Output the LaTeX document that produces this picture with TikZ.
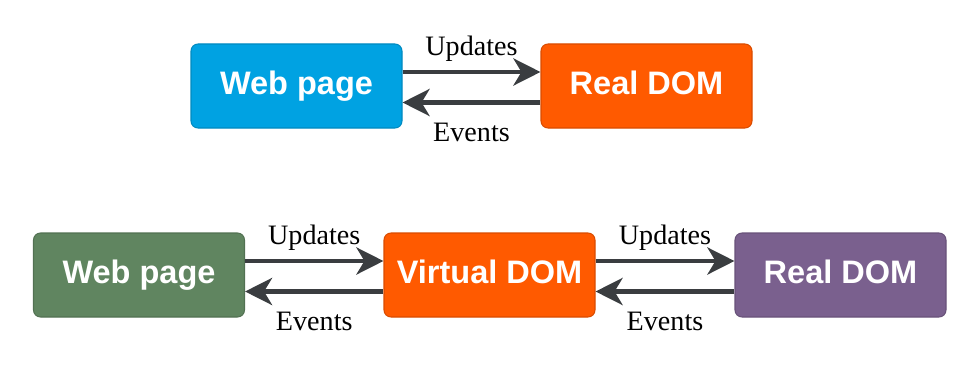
\documentclass[tikz,border=0pt]{standalone}
\usepackage{fontspec}
\setmainfont{Liberation Serif}
\setsansfont{Liberation Sans}
\usetikzlibrary{arrows.meta,positioning}

\definecolor{webblue}{RGB}{0,162,226}
\definecolor{domorange}{RGB}{255,90,0}
\definecolor{webgreen}{RGB}{96,133,96}
\definecolor{dompurple}{RGB}{122,96,142}
\definecolor{arrowgray}{RGB}{58,61,64}

\begin{document}
\begin{tikzpicture}[
  >={Stealth[length=5.4mm,width=5.4mm,inset=1.6mm]},
  box/.style={rounded corners=4pt,minimum width=4.22cm,minimum height=1.68cm,
              font=\sffamily\bfseries\fontsize{18.5}{22}\selectfont,text=white,line width=0.6pt,
              text height=1.0em,text depth=0pt},
  flow/.style={->,line width=2.8pt,draw=arrowgray},
  lbl/.style={font=\fontsize{16}{19}\selectfont,inner sep=2pt},
]
\useasboundingbox (0,0) rectangle (19.52,-7.48);

% row heights
\def\rowA{-1.72}
\def\rowB{-5.50}

% ---------------- top row ----------------
\node[box,fill=webblue,draw=webblue!85!black]     (W1) at (5.93,\rowA) {Web page};
\node[box,fill=domorange,draw=domorange!85!black] (R1) at (12.93,\rowA) {Real DOM};

% ---------------- bottom row ----------------
\node[box,fill=webgreen,draw=webgreen!85!black]   (W2) at (2.78,\rowB) {Web page};
\node[box,fill=domorange,draw=domorange!85!black] (V2) at (9.79,\rowB) {Virtual DOM};
\node[box,fill=dompurple,draw=dompurple!85!black] (R2) at (16.81,\rowB) {Real DOM};

% ---------------- updates / events ----------------
\foreach \a/\b in {W1/R1,W2/V2,V2/R2}{
  \draw[flow] ([yshift=0.28cm]\a.east) -- node[lbl,above=0.1cm]{Updates} ([yshift=0.28cm]\b.west);
  \draw[flow] ([yshift=-0.33cm]\b.west) -- node[lbl,below=0.3cm]{Events} ([yshift=-0.33cm]\a.east);
}

\end{tikzpicture}
\end{document}
